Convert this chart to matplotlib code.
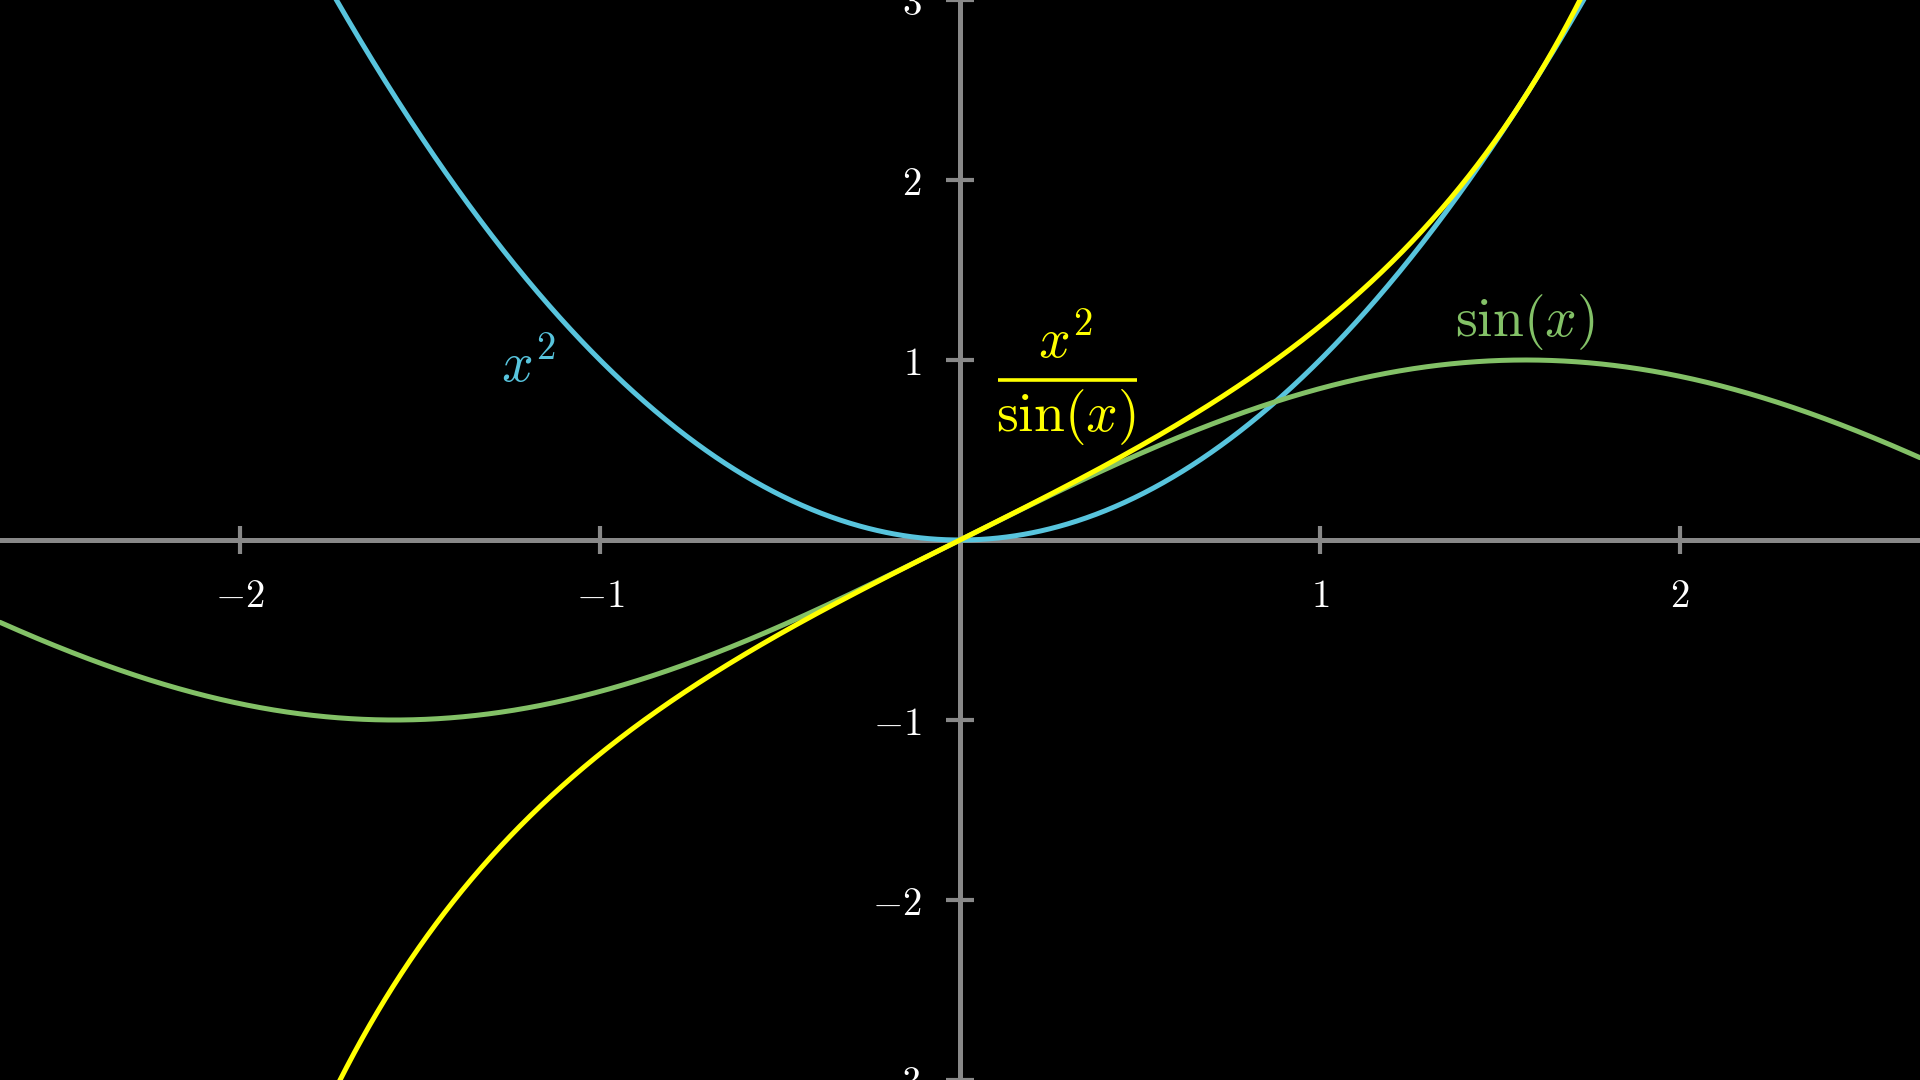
import numpy as np
import matplotlib
matplotlib.use("Agg")
import matplotlib.pyplot as plt

plt.rcParams['mathtext.fontset'] = 'cm'
plt.rcParams['font.family'] = ['DejaVu Sans']

# ---- data ----
x_ticks = [-2, -1, 1, 2]
y_ticks = [-3, -2, -1, 1, 2, 3]
x_tick_labels = [r'$-2$', r'$-1$', r'$1$', r'$2$']
y_tick_labels = [r'$-3$', r'$-2$', r'$-1$', r'$1$', r'$2$', r'$3$']
x_range = (-8 / 3, 8 / 3)
y_range = (-3, 3)

xs = np.linspace(-8 / 3, 8 / 3, 2000)  # even count -> avoids x = 0
f_square = xs ** 2
f_sin = np.sin(xs)
f_ratio = xs ** 2 / np.sin(xs)

label_square = r'$x^2$'
label_sin = r'$\sin(x)$'
label_num = r'$x^2$'
label_den = r'$\sin(x)$'

BLUE = '#58C4DD'
GREEN = '#83C167'
YELLOW = '#FFFF00'
GREY = '#888888'

fig = plt.figure(figsize=(19.2, 10.8), dpi=100, facecolor='black')
ax = fig.add_axes([0, 0, 1, 1])
ax.set_facecolor('black')
ax.set_xlim(*x_range)
ax.set_ylim(*y_range)

for s in ['top', 'right']:
    ax.spines[s].set_visible(False)
for s in ['left', 'bottom']:
    ax.spines[s].set_position(('data', 0))
    ax.spines[s].set_color(GREY)
    ax.spines[s].set_linewidth(3.6)
    ax.spines[s].set_zorder(1)

ax.set_xticks(x_ticks)
ax.set_xticklabels(x_tick_labels)
ax.set_yticks(y_ticks)
ax.set_yticklabels(y_tick_labels)
ax.tick_params(axis='both', direction='inout', length=19.5, width=3.0,
               color=GREY, labelcolor='white', labelsize=28)
ax.tick_params(axis='x', pad=17)
ax.tick_params(axis='y', pad=18)

lw = 3.6
ax.plot(xs, f_square, color=BLUE, lw=lw, zorder=3, solid_capstyle='round')
ax.plot(xs, f_sin, color=GREEN, lw=lw, zorder=3, solid_capstyle='round')
ax.plot(xs, f_ratio, color=YELLOW, lw=lw, zorder=4, solid_capstyle='round')

ax.text(-1.20, 0.965, label_square, color=BLUE, fontsize=40,
        ha='center', va='center', zorder=5)
ax.text(1.57, 1.21, label_sin, color=GREEN, fontsize=40,
        ha='center', va='center', zorder=5)

# stacked fraction label: numerator, bar, denominator
ax.text(0.294, 1.01, label_num, color=YELLOW, fontsize=40,
        ha='center', va='baseline', zorder=5)
ax.text(0.294, 0.606, label_den, color=YELLOW, fontsize=40,
        ha='center', va='baseline', zorder=5)
ax.plot([0.106, 0.492], [0.889, 0.889], color=YELLOW, lw=2.6, zorder=5,
        solid_capstyle='butt')

fig.savefig('out.png', dpi=100, facecolor='black')
